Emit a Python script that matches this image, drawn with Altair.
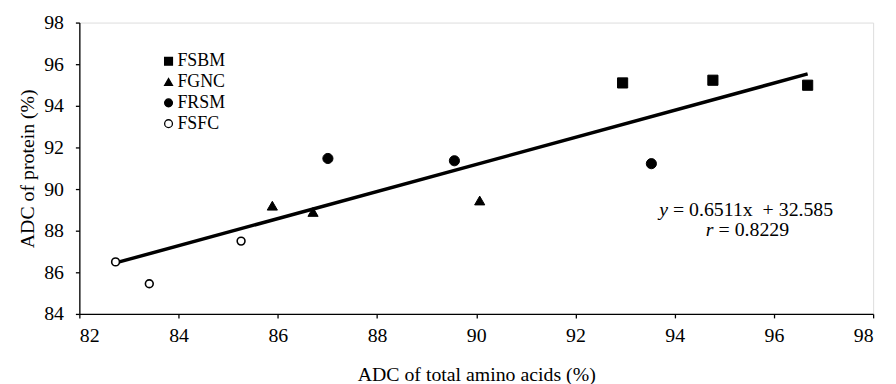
import altair as alt
import pandas as pd

# ---- data ----
groups = ["FSBM"] * 3 + ["FGNC"] * 3 + ["FRSM"] * 3 + ["FSFC"] * 3
adc_aa = [92.95, 94.77, 96.68, 85.89, 86.71, 90.07, 87.01, 89.56, 93.53, 82.73, 83.41, 85.26]
adc_protein = [95.10, 95.23, 94.99, 89.20, 88.90, 89.45, 91.47, 91.36, 91.22, 86.50, 85.45, 87.50]
categories = ["FSBM", "FGNC", "FRSM", "FSFC"]
shapes = ["square", "triangle-up", "circle", "circle"]
fills = ["black", "black", "black", "white"]
strokes = ["black", "black", "black", "black"]
slope = 0.6511
intercept = 32.585
x_ticks = list(range(82, 99, 2))
y_ticks = list(range(84, 99, 2))
eq_italic = ["y", "r"]
eq_rest = ["= 0.6511x\u00a0 + 32.585", "= 0.8229"]
eq_x = [93.866, 94.784]
eq_y = [88.70, 87.745]

FONT = "Liberation Serif"

df = pd.DataFrame({"group": groups, "x": adc_aa, "y": adc_protein})
fit = pd.DataFrame({"x": [min(adc_aa), max(adc_aa)]})
fit["y"] = slope * fit["x"] + intercept
ann = pd.DataFrame({"x": eq_x, "y": eq_y, "it": eq_italic, "rest": eq_rest})

xscale = alt.Scale(domain=[82, 98], nice=False, zero=False)
yscale = alt.Scale(domain=[84, 98], nice=False, zero=False)

axis_common = dict(
    grid=False, domainColor="black", domainWidth=1.3, tickColor="black", tickWidth=1.3,
    tickSize=4, labelFont=FONT, labelFontSize=20, labelColor="black",
    titleFont=FONT, titleFontSize=20, titleColor="black", titleFontWeight="normal",
)
xaxis = alt.Axis(values=x_ticks, title="ADC of total amino acids (%)", labelPadding=8,
                 titlePadding=19, **axis_common)
yaxis = alt.Axis(values=y_ticks, title="ADC of protein (%)", labelPadding=12,
                 titlePadding=6, **axis_common)

X = alt.X("x:Q", scale=xscale, axis=xaxis)
Y = alt.Y("y:Q", scale=yscale, axis=yaxis)

shape_enc = alt.Shape("group:N", scale=alt.Scale(domain=categories, range=shapes), title=None)
fill_enc = alt.Fill("group:N", scale=alt.Scale(domain=categories, range=fills), title=None)
stroke_enc = alt.Stroke("group:N", scale=alt.Scale(domain=categories, range=strokes), title=None)

base = alt.Chart(df).encode(x=X, y=Y, shape=shape_enc, fill=fill_enc, stroke=stroke_enc)

solid_pts = base.transform_filter(alt.datum.group != "FSFC").mark_point(
    strokeWidth=1, opacity=1, fillOpacity=1, strokeOpacity=1, size=105)
open_pts = base.transform_filter(alt.datum.group == "FSFC").mark_point(
    strokeWidth=1.6, opacity=1, fillOpacity=1, strokeOpacity=1, size=62)

line = alt.Chart(fit).mark_line(color="black", strokeWidth=3.5).encode(x=X, y=Y)

t_it = alt.Chart(ann).mark_text(font=FONT, fontSize=20, fontStyle="italic", align="right",
                                baseline="alphabetic", color="black").encode(x=X, y=Y, text="it:N")
t_rest = alt.Chart(ann).mark_text(font=FONT, fontSize=20, align="left", dx=5,
                                  baseline="alphabetic", color="black").encode(x=X, y=Y, text="rest:N")

chart = alt.layer(line, solid_pts, open_pts, t_it, t_rest).properties(
    width=801, height=294,
    autosize=alt.AutoSizeParams(type="none"),
    padding={"left": 72, "top": 13, "right": 15, "bottom": 69},
).configure_view(stroke=None).configure(background="white").configure_legend(
    orient="none", legendX=81, legendY=30, padding=0, title=None,
    labelFont=FONT, labelFontSize=18, labelColor="black", labelOffset=0,
    symbolSize=62, symbolStrokeWidth=1.3, rowPadding=3,
)

chart.save("out.html", embed_options={"renderer": "svg", "actions": False})
